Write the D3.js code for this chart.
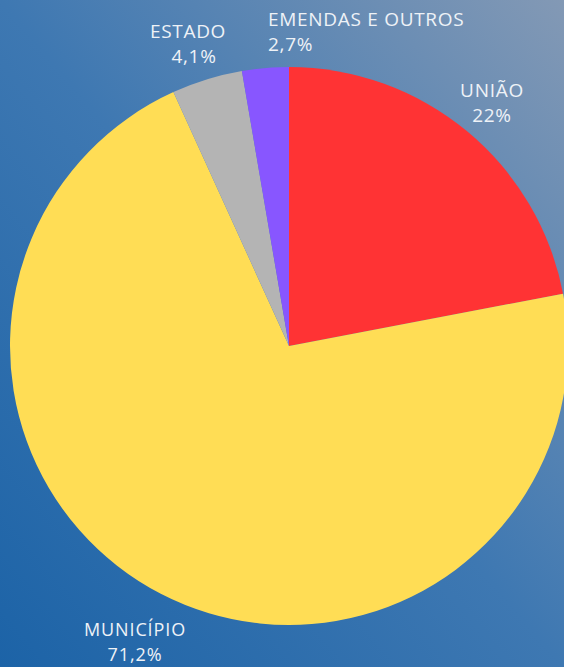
<!DOCTYPE html>
<html lang="pt">
<head>
    <meta charset="UTF-8">
    <title>Origem dos recursos</title>
    <script src="https://d3js.org/d3.v7.min.js"></script>
    <style>
        body { margin: 0; padding: 0; overflow: hidden; }
        #chart { display: block; }
        .lbl {
            font-family: "Open Sans", sans-serif;
            font-size: 19px;
            letter-spacing: 0.7px;
            fill: #eef2f7;
        }
        .lbl.bottom { font-size: 18px; letter-spacing: 0.9px; }
    </style>
</head>
<body>
    <svg id="chart"></svg>

    <script>
        // Slices, clockwise from 12 o'clock
        const categories = ["UNIÃO", "MUNICÍPIO", "ESTADO", "EMENDAS E OUTROS"];
        const values = [22, 71.2, 4.1, 2.7];
        const valueLabels = ["22%", "71,2%", "4,1%", "2,7%"];
        const colors = ["#ff3334", "#ffdd55", "#b4b4b4", "#8856ff"];

        const width = 564, height = 667;
        const cx = 289, cy = 346, radius = 279;

        const svg = d3.select("#chart")
            .attr("width", width)
            .attr("height", height);

        // background gradient (darker bottom-left, lighter top-right)
        const defs = svg.append("defs");
        const grad = defs.append("linearGradient")
            .attr("id", "bg")
            .attr("x1", "0%").attr("y1", "100%")
            .attr("x2", "100%").attr("y2", "0%");
        grad.append("stop").attr("offset", "0%").attr("stop-color", "#1c63a7");
        grad.append("stop").attr("offset", "50%").attr("stop-color", "#3e78b2");
        grad.append("stop").attr("offset", "100%").attr("stop-color", "#8399b5");

        svg.append("rect")
            .attr("width", width)
            .attr("height", height)
            .attr("fill", "url(#bg)");

        const pie = d3.pie().sort(null).value(d => d);
        const arc = d3.arc().innerRadius(0).outerRadius(radius);

        const g = svg.append("g").attr("transform", `translate(${cx},${cy})`);

        g.selectAll("path")
            .data(pie(values))
            .enter().append("path")
            .attr("d", arc)
            .attr("fill", (d, i) => colors[i]);

        // label positions: name baseline, value baseline
        const labels = [
            { x: 492, y: 97, y2: 122, anchor: "middle", dx2: 0, cls: "lbl" },
            { x: 135, y: 636, y2: 661, anchor: "middle", dx2: 0, cls: "lbl bottom" },
            { x: 188, y: 38, y2: 63, anchor: "middle", dx2: 6, cls: "lbl" },
            { x: 268, y: 26, y2: 51, anchor: "start", dx2: 0, cls: "lbl" }
        ];

        labels.forEach((p, i) => {
            svg.append("text")
                .attr("class", p.cls)
                .attr("text-anchor", p.anchor)
                .attr("x", p.x)
                .attr("y", p.y)
                .text(categories[i]);
            svg.append("text")
                .attr("class", p.cls)
                .attr("text-anchor", p.anchor)
                .attr("x", p.x + p.dx2)
                .attr("y", p.y2)
                .text(valueLabels[i]);
        });
    </script>
</body>
</html>
